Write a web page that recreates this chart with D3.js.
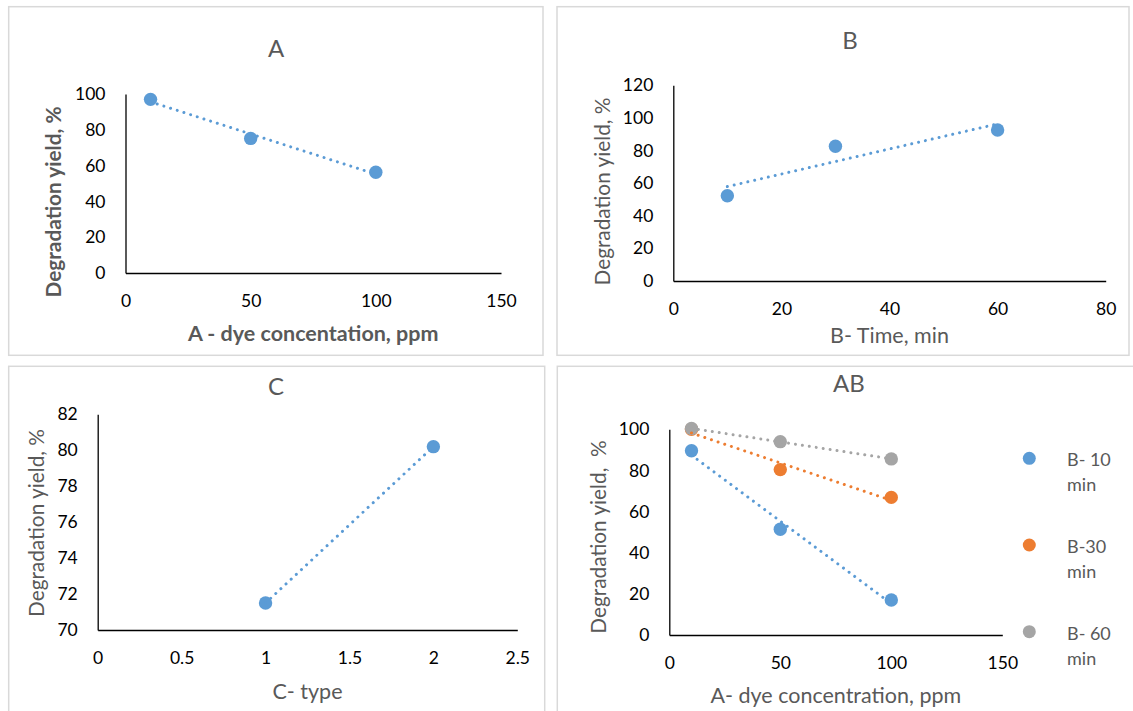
<!DOCTYPE html>
<html>
<head>
<meta charset="utf-8">
<script src="https://cdn.jsdelivr.net/npm/d3@7"></script>
<style>
  body { margin: 0; background: white; }
  text { font-family: Lato, "Open Sans", sans-serif; }
</style>
</head>
<body>
<div id="chart"></div>
<script>
// Data
const xA = [10, 50, 100];
const yA = [97.0, 75.2, 56.3];

const xB = [10, 30, 60];
const yB = [52.3, 82.6, 92.6];

const xC = [1, 2];
const yC = [71.5, 80.2];

const xAB = [10, 50, 100];
const yAB10 = [89.6, 51.4, 17.0];
const yAB30 = [100.0, 80.4, 66.9];
const yAB60 = [100.4, 94.0, 85.6];
const legendAB = [["B- 10", "min"], ["B-30", "min"], ["B- 60", "min"]];

// Tick labels
const xTicksA = [0, 50, 100, 150];
const yTicksA = [0, 20, 40, 60, 80, 100];
const xTicksB = [0, 20, 40, 60, 80];
const yTicksB = [0, 20, 40, 60, 80, 100, 120];
const xTicksC = [0, 0.5, 1, 1.5, 2, 2.5];
const yTicksC = [70, 72, 74, 76, 78, 80, 82];
const xTicksAB = [0, 50, 100, 150];
const yTicksAB = [0, 20, 40, 60, 80, 100];

const blue = "#5B9BD5", orange = "#ED7D31", grey = "#A5A5A5";
const textGrey = "#595959";

let width = 1133, height = 711;

let svg = d3.select('#chart')
    .append('svg')
    .attr('width', width)
    .attr('height', height)
    .style('background', 'white');

// least squares line, like the Excel trendline
function trend(xs, ys) {
    const mx = d3.mean(xs), my = d3.mean(ys);
    const sxy = d3.sum(xs, (x, i) => (x - mx) * (ys[i] - my));
    const sxx = d3.sum(xs, x => (x - mx) * (x - mx));
    const b = sxy / sxx, a = my - b * mx;
    const x0 = d3.min(xs), x1 = d3.max(xs);
    return [[x0, a + b * x0], [x1, a + b * x1]];
}

function panel(p) {
    // panel frame
    svg.append('rect')
        .attr('x', p.box[0]).attr('y', p.box[1])
        .attr('width', p.box[2] - p.box[0]).attr('height', p.box[3] - p.box[1])
        .attr('fill', 'white')
        .attr('stroke', '#D9D9D9')
        .attr('stroke-width', 1.5);

    let x = d3.scaleLinear()
        .domain(d3.extent(p.xTicks))
        .range(p.xRange);
    let y = d3.scaleLinear()
        .domain(d3.extent(p.yTicks))
        .range(p.yRange);

    let xaxis = svg.append('g')
        .attr('transform', `translate(0,${p.yRange[0]})`)
        .call(d3.axisBottom(x).tickValues(p.xTicks).tickSize(0).tickPadding(22)
            .tickFormat(d3.format('')));
    let yaxis = svg.append('g')
        .attr('transform', `translate(${p.xRange[0]},0)`)
        .call(d3.axisLeft(y).tickValues(p.yTicks).tickSize(0).tickPadding(20)
            .tickFormat(d3.format('')));

    [xaxis, yaxis].forEach(a => {
        a.select('.domain').attr('stroke', '#000').attr('stroke-width', 1.3);
        a.selectAll('text')
            .style('font-family', 'Lato, sans-serif')
            .style('font-size', '17.5px')
            .attr('fill', '#000');
    });

    // title
    svg.append('text')
        .text(p.title)
        .attr('x', p.titlePos[0]).attr('y', p.titlePos[1])
        .attr('text-anchor', 'middle')
        .attr('fill', textGrey)
        .style('font-size', '24px');

    // axis titles
    svg.append('text')
        .text(p.xTitle)
        .attr('x', d3.mean(p.xRange)).attr('y', p.xTitleY)
        .attr('text-anchor', 'middle')
        .attr('fill', textGrey)
        .style('font-size', '21.5px')
        .style('font-weight', p.bold ? 'bold' : 'normal');

    svg.append('text')
        .text(p.yTitle)
        .attr('transform', `translate(${p.yTitlePos[0]},${p.yTitlePos[1]}) rotate(-90)`)
        .attr('text-anchor', 'middle')
        .attr('fill', textGrey)
        .style('white-space', 'pre')
        .style('font-size', '20.8px')
        .style('font-weight', p.bold ? 'bold' : 'normal');

    // markers first, trendlines on top
    p.series.forEach(s => {
        svg.append('g').selectAll('circle')
            .data(s.ys)
            .join('circle')
            .attr('cx', (d, i) => x(p.xs[i]))
            .attr('cy', d => y(d))
            .attr('r', 6.7)
            .attr('fill', s.color);
    });

    const line = d3.line()
        .x(d => x(d[0]))
        .y(d => y(d[1]));

    p.series.forEach(s => {
        svg.append('path')
            .datum(trend(p.xs, s.ys))
            .attr('d', line)
            .attr('fill', 'none')
            .attr('stroke', s.color)
            .attr('stroke-width', 3)
            .attr('stroke-linecap', 'round')
            .attr('stroke-dasharray', '0.01 7');
    });
}

panel({
    box: [8.7, 6.7, 543, 355.3],
    xRange: [125.5, 501], yRange: [273, 94],
    xTicks: xTicksA, yTicks: yTicksA, xs: xA,
    series: [{ys: yA, color: blue}],
    title: 'A', titlePos: [276, 56.7],
    xTitle: 'A - dye concentation, ppm', xTitleY: 341,
    yTitle: 'Degradation yield, %', yTitlePos: [61, 202],
    bold: true
});

panel({
    box: [557, 6.7, 1129, 355.3],
    xRange: [673.3, 1105.7], yRange: [281, 85.3],
    xTicks: xTicksB, yTicks: yTicksB, xs: xB,
    series: [{ys: yB, color: blue}],
    title: 'B', titlePos: [850, 49],
    xTitle: 'B- Time, min', xTitleY: 343,
    yTitle: 'Degradation yield, %', yTitlePos: [610, 191.5],
    bold: false
});

panel({
    box: [8.7, 366.3, 544.7, 720],
    xRange: [97.7, 517.3], yRange: [630, 414.3],
    xTicks: xTicksC, yTicks: yTicksC, xs: xC,
    series: [{ys: yC, color: blue}],
    title: 'C', titlePos: [276, 395],
    xTitle: 'C- type', xTitleY: 699,
    yTitle: 'Degradation yield, %', yTitlePos: [44, 523],
    bold: false
});

panel({
    box: [557.3, 366.3, 1140, 720],
    xRange: [669.3, 1002.3], yRange: [635, 429.3],
    xTicks: xTicksAB, yTicks: yTicksAB, xs: xAB,
    series: [{ys: yAB10, color: blue}, {ys: yAB30, color: orange}, {ys: yAB60, color: grey}],
    title: 'AB', titlePos: [849, 392],
    xTitle: 'A- dye concentration, ppm', xTitleY: 703,
    yTitle: 'Degradation yield,  %', yTitlePos: [606, 537],
    bold: false
});

// legend for AB
const legendColors = [blue, orange, grey];
legendAB.forEach((lines, i) => {
    const cy = 458.3 + i * 86.7;
    svg.append('circle')
        .attr('cx', 1029.3).attr('cy', cy)
        .attr('r', 6.5)
        .attr('fill', legendColors[i]);
    lines.forEach((t, j) => {
        svg.append('text')
            .text(t)
            .attr('x', 1067).attr('y', cy + 8 + j * 25)
            .attr('fill', textGrey)
            .style('font-size', '18px');
    });
});
</script>
</body>
</html>
